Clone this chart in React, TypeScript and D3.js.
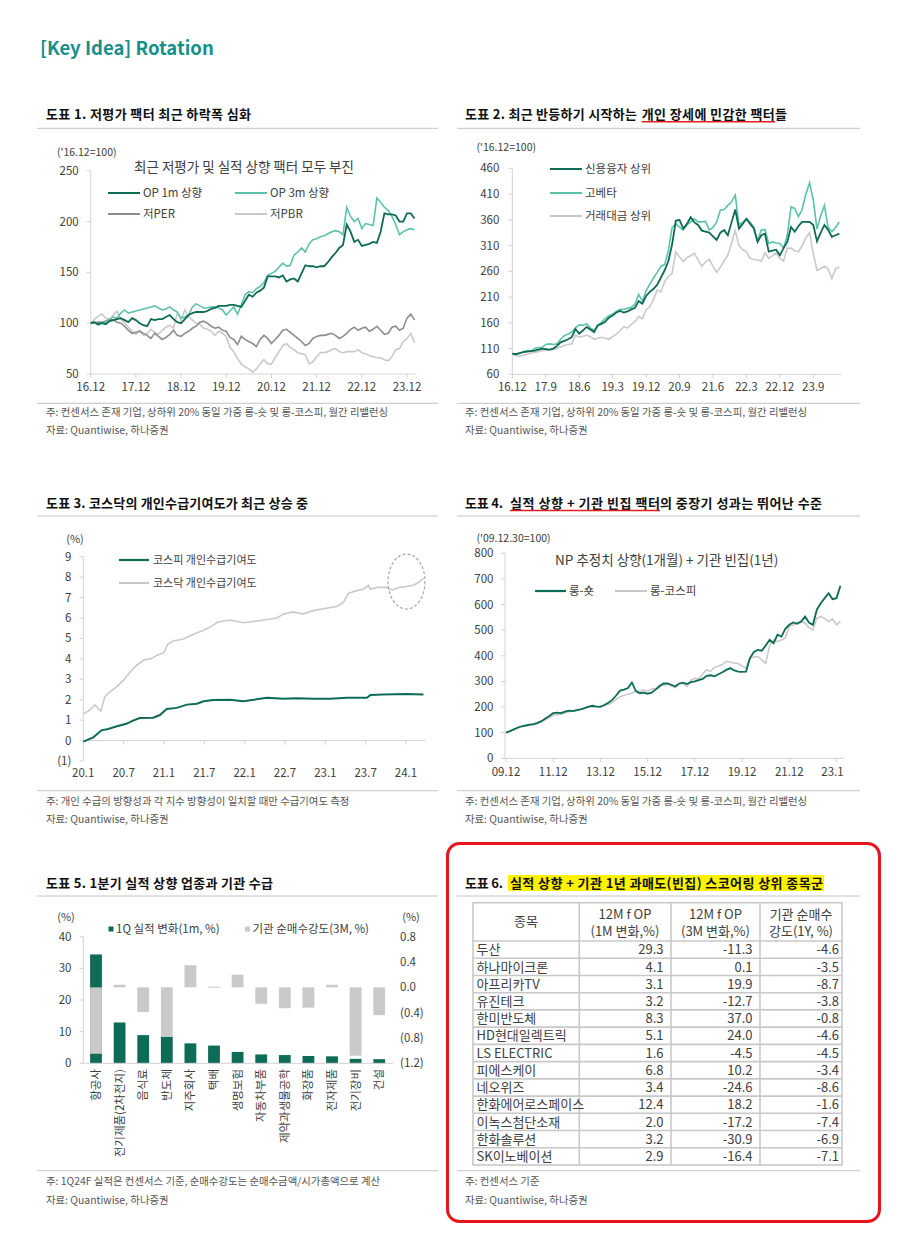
import React from 'react';
import * as d3 from 'd3';

const FONT = "'Noto Sans CJK KR', 'Noto Sans', sans-serif";
const DARK = '#0d6b56';
const TEAL = '#5cc2a9';
const MIDGRAY = '#8d8d8d';
const LIGHTGRAY = '#c9c9c9';
const AXIS = '#d3d3d3';
const TXT = '#404040';
const NOTE = '#555555';
const SEP = '#c4c4c4';
const TITLE_COLOR = '#17908a';

// ---------- Chart 1 ----------
const c1XLabels = ['16.12', '17.12', '18.12', '19.12', '20.12', '21.12', '22.12', '23.12'];
const c1YTicks = [50, 100, 150, 200, 250];
const c1Op1m = [100, 101, 99, 100, 99, 102, 103, 104, 105, 103, 101, 105,
  103, 100, 98, 97, 104, 103, 104, 104, 106, 108, 104, 101,
  100, 104, 108, 110, 111, 111, 111, 112, 114, 115, 117, 117,
  117, 118, 118, 117, 116, 122, 128, 126, 130, 132, 135, 146,
  146, 146, 145, 147, 141, 143, 144, 141, 149, 157, 156, 156,
  155, 156, 156, 160, 165, 169, 174, 177, 197, 190, 180, 182,
  176, 177, 178, 180, 179, 190, 208, 207, 207, 206, 200, 200,
  208, 208, 203];
const c1Op3m = [100, 101, 98, 101, 100, 104, 106, 105, 110, 113, 110, 111,
  112, 113, 114, 115, 116, 117, 115, 113, 114, 116, 113, 111,
  105, 106, 108, 116, 119, 117, 115, 115, 116, 116, 115, 113,
  108, 112, 116, 109, 118, 128, 131, 130, 134, 136, 140, 147,
  149, 151, 155, 159, 156, 157, 167, 170, 174, 170, 178, 182,
  183, 185, 186, 188, 190, 191, 190, 187, 214, 205, 200, 203,
  193, 198, 197, 196, 223, 219, 214, 211, 205, 197, 187, 190,
  192, 193, 192];
const c1LowPer = [100, 100, 101, 101, 102, 104, 103, 101, 100, 97, 93, 90,
  91, 92, 90, 88, 85, 90, 87, 84, 86, 89, 93, 88,
  87, 90, 92, 95, 97, 101, 102, 100, 97, 95, 96, 93,
  92, 86, 84, 79, 87, 84, 82, 80, 77, 84, 88, 85,
  80, 84, 88, 93, 94, 91, 88, 85, 82, 78, 80, 85,
  87, 88, 88, 89, 90, 88, 85, 87, 90, 94, 96, 93,
  95, 96, 92, 94, 97, 93, 89, 90, 96, 97, 93, 95,
  105, 109, 103];
const c1LowPbr = [100, 104, 107, 109, 105, 103, 108, 112, 104, 100, 96, 92,
  89, 93, 88, 90, 94, 91, 89, 93, 96, 98, 95, 110,
  103, 113, 106, 103, 100, 99, 95, 94, 92, 88, 92, 90,
  87, 76, 72, 65, 60, 57, 55, 52, 55, 60, 64, 60,
  60, 66, 72, 78, 80, 76, 74, 71, 70, 69, 60, 62,
  67, 71, 71, 72, 74, 75, 72, 71, 72, 72, 72, 74,
  71, 70, 68, 67, 66, 66, 64, 63, 67, 74, 75, 82,
  85, 90, 81];

// ---------- Chart 2 ----------
const c2XLabels = ['16.12', '17.9', '18.6', '19.3', '19.12', '20.9', '21.6', '22.3', '22.12', '23.9'];
const c2YTicks = [60, 110, 160, 210, 260, 310, 360, 410, 460];
const c2Credit = [100, 99, 101, 103, 104, 105, 106, 108, 110, 109, 108, 110,
  115, 122, 125, 128, 132, 148, 139, 145, 152, 147, 142, 155,
  158, 162, 170, 174, 180, 183, 180, 182, 186, 189, 202, 197,
  212, 220, 226, 234, 248, 262, 280, 312, 358, 360, 343, 352,
  365, 355, 350, 339, 337, 335, 328, 321, 335, 340, 330, 355,
  380, 343, 352, 362, 352, 343, 317, 330, 333, 298, 300, 302,
  291, 305, 317, 346, 337, 348, 356, 356, 356, 350, 318, 335,
  350, 340, 327, 330, 333];
const c2Beta = [100, 99, 101, 104, 106, 105, 110, 112, 112, 118, 119, 118,
  119, 128, 135, 138, 142, 150, 156, 155, 158, 150, 145, 155,
  161, 168, 174, 177, 182, 186, 186, 188, 190, 196, 215, 202,
  222, 235, 247, 258, 270, 273, 300, 345, 352, 346, 340, 350,
  356, 362, 356, 356, 357, 340, 345, 356, 379, 380, 388, 395,
  408, 350, 355, 362, 355, 346, 320, 340, 341, 314, 317, 315,
  314, 305, 330, 385, 382, 366, 380, 410, 432, 398, 342, 368,
  388, 345, 337, 345, 356];
const c2Volume = [100, 96, 95, 97, 99, 101, 103, 104, 106, 107, 107, 108,
  110, 113, 116, 118, 119, 136, 132, 134, 136, 133, 128, 130,
  132, 130, 128, 133, 138, 145, 152, 150, 157, 162, 172, 168,
  185, 191, 205, 224, 220, 240, 250, 256, 298, 288, 279, 287,
  290, 295, 282, 270, 278, 283, 270, 258, 268, 280, 292, 315,
  339, 310, 302, 298, 285, 283, 282, 280, 296, 285, 290, 296,
  285, 280, 305, 305, 300, 298, 310, 325, 335, 295, 262, 265,
  270, 265, 246, 265, 268];

// ---------- Chart 3 ----------
const c3XLabels = ['20.1', '20.7', '21.1', '21.7', '22.1', '22.7', '23.1', '23.7', '24.1'];
const c3YTicks = [-1, 0, 1, 2, 3, 4, 5, 6, 7, 8, 9];
const c3KospiMonths = [0, 1.5, 2.7, 3.7, 5, 6.4, 7.4, 8.4, 10.4, 11.4, 12.4, 13.9, 15.4, 16.9, 17.9,
  19.3, 21.8, 23.8, 25.8, 27.3, 29.8, 31.7, 34.2, 36.7, 39.2, 42.2, 42.7, 44.6, 48.1, 50.6];
const c3KospiValues = [-0.05, 0.16, 0.5, 0.57, 0.7, 0.82, 0.98, 1.1, 1.12, 1.25, 1.55, 1.6, 1.76, 1.8, 1.92,
  1.99, 2.0, 1.92, 2.02, 2.09, 2.05, 2.07, 2.05, 2.05, 2.09, 2.09, 2.23, 2.25, 2.28, 2.25];
const c3KosdaqMonths = [0, 1, 1.7, 2.6, 3.2, 4, 5, 6, 7, 8, 9, 10, 11, 12, 12.5, 13.4, 15, 16.4, 17.9, 19.3,
  20, 21.8, 23.8, 24.8, 26.8, 28.8, 29.8, 31.2, 32.7, 34.2, 35.7, 37.7, 38.7, 39.4, 40.7,
  41.7, 42.4, 42.7, 43.7, 45.1, 45.9, 47.1, 48.1, 49.1, 49.9, 50.6];
const c3KosdaqValues = [1.3, 1.5, 1.75, 1.45, 2.14, 2.4, 2.64, 2.97, 3.37, 3.7, 3.94, 4.0, 4.18, 4.3, 4.7,
  4.87, 4.98, 5.2, 5.4, 5.64, 5.8, 5.9, 5.77, 5.8, 5.9, 6.0, 6.2, 6.3, 6.2, 6.36, 6.45, 6.56, 6.77, 7.2, 7.34,
  7.42, 7.6, 7.4, 7.5, 7.5, 7.37, 7.5, 7.54, 7.6, 7.75, 7.95];

// ---------- Chart 4 ----------
const c4XLabels = ['09.12', '11.12', '13.12', '15.12', '17.12', '19.12', '21.12', '23.1'];
const c4YTicks = [0, 100, 200, 300, 400, 500, 600, 700, 800];
const c4LongShort = [100, 106, 113, 120, 125, 128, 131, 133, 138, 145, 155, 165,
  176, 178, 176, 182, 186, 184, 188, 191, 196, 202, 205, 202,
  201, 208, 217, 228, 245, 264, 268, 274, 296, 262, 254, 256,
  252, 256, 268, 280, 292, 292, 287, 280, 292, 295, 290, 297,
  300, 305, 310, 322, 324, 320, 328, 336, 345, 352, 343, 338,
  337, 338, 391, 415, 423, 420, 440, 462, 449, 482, 475, 505,
  521, 530, 525, 534, 553, 530, 521, 580, 605, 625, 644, 621,
  625, 673];
const c4LongKospi = [100, 105, 112, 118, 124, 127, 128, 130, 136, 143, 150, 158,
  168, 170, 172, 178, 182, 186, 187, 192, 196, 200, 200, 202,
  204, 206, 210, 218, 230, 240, 246, 250, 254, 262, 262, 266,
  262, 270, 272, 286, 284, 290, 282, 276, 290, 292, 280, 305,
  312, 310, 330, 345, 340, 355, 360, 366, 378, 375, 372, 370,
  360, 352, 391, 395, 397, 384, 371, 440, 462, 455, 462, 470,
  514, 520, 530, 534, 527, 510, 501, 547, 553, 545, 534, 543,
  521, 534];

// ---------- Chart 5 ----------
const c5Sectors = ['항공사', '전기제품(2차전지)', '음식료', '반도체', '지주회사', '택배', '생명보험',
  '자동차부품', '제약과생물공학', '화장품', '전자제품', '전기장비', '건설'];
const c5Earnings = [34.4, 12.9, 8.9, 8.4, 6.3, 5.6, 3.6, 2.8, 2.6, 2.3, 2.2, 1.4, 1.3];
const c5InstFlow = [-1.05, 0.04, -0.39, -0.77, 0.35, 0.01, 0.2, -0.26, -0.33, -0.32, 0.04, -1.08, -0.44];
const c5LeftTicks = [0, 10, 20, 30, 40];
const c5RightTicks = [-1.2, -0.8, -0.4, 0, 0.4, 0.8];

// ---------- Table 6 ----------
const t6Names = ['두산', '하나마이크론', '아프리카TV', '유진테크', '한미반도체', 'HD현대일렉트릭', 'LS ELECTRIC',
  '피에스케이', '네오위즈', '한화에어로스페이스', '이녹스첨단소재', '한화솔루션', 'SK이노베이션'];
const t6Op1m = [29.3, 4.1, 3.1, 3.2, 8.3, 5.1, 1.6, 6.8, 3.4, 12.4, 2.0, 3.2, 2.9];
const t6Op3m = [-11.3, 0.1, 19.9, -12.7, 37.0, 24.0, -4.5, 10.2, -24.6, 18.2, -17.2, -30.9, -16.4];
const t6Inst = [-4.6, -3.5, -8.7, -3.8, -0.8, -4.6, -4.5, -3.4, -8.6, -1.6, -7.4, -6.9, -7.1];

const fmtParen = (v: number, digits: number) => {
  if (Math.abs(v) < 1e-9) return (0).toFixed(digits);
  return v < 0 ? `(${Math.abs(v).toFixed(digits)})` : v.toFixed(digits);
};

type Seg = { t: string; x: number; w?: number };

function PanelTitle({ segs, y }: { segs: Seg[]; y: number }) {
  return (
    <g>
      {segs.map((s, i) => (
        <text key={i} x={s.x} y={y} fontSize={13} fontWeight={700} fill="#111"
          textLength={s.w} lengthAdjust={s.w ? 'spacing' : undefined}>{s.t}</text>
      ))}
    </g>
  );
}

function Notes({ x, y1, y2, note, src }: { x: number; y1: number; y2: number; note: string; src: string }) {
  return (
    <g fontSize={10.4} fill={NOTE}>
      <text x={x} y={y1}>{note}</text>
      <text x={x} y={y2}>{src}</text>
    </g>
  );
}

function Legend({ x1, x2, y, color, w, label, tx, fs = 11.5 }: any) {
  return (
    <g>
      <line x1={x1} x2={x2} y1={y} y2={y} stroke={color} strokeWidth={w} />
      <text x={tx} y={y} dy="0.35em" fontSize={fs} fill={TXT}>{label}</text>
    </g>
  );
}

function Chart1() {
  const x = d3.scaleLinear().domain([0, 84]).range([90.7, 407]);
  const y = d3.scaleLinear().domain([50, 250]).range([374, 170.7]);
  const line = d3.line<number>().x((_, i) => x(i)).y((d) => y(d));
  return (
    <g>
      <text x={57} y={152} dy="0.35em" fontSize={10.5} fill={TXT}>('16.12=100)</text>
      <text x={244} y={167} dy="0.35em" fontSize={13.5} fill={TXT} textAnchor="middle">최근 저평가 및 실적 상향 팩터 모두 부진</text>
      <line x1={x(0)} x2={x(0)} y1={y(250)} y2={y(50)} stroke={AXIS} />
      {c1YTicks.map((t) => (
        <g key={t}>
          <line x1={x(0) - 4} x2={x(0)} y1={y(t)} y2={y(t)} stroke={AXIS} />
          <text x={x(0) - 12} y={y(t)} dy="0.35em" textAnchor="end" fontSize={11.5} fill={TXT}>{t}</text>
        </g>
      ))}
      <line x1={x(0)} x2={x(86) + 2} y1={y(50)} y2={y(50)} stroke={AXIS} />
      {c1XLabels.map((l, i) => (
        <g key={l}>
          <line x1={x(i * 12)} x2={x(i * 12)} y1={y(50)} y2={y(50) + 4} stroke={AXIS} />
          <text x={x(i * 12)} y={387} dy="0.35em" textAnchor="middle" fontSize={11.5} fill={TXT}>{l}</text>
        </g>
      ))}
      <path d={line(c1LowPbr) || ''} fill="none" stroke={LIGHTGRAY} strokeWidth={1.6} />
      <path d={line(c1LowPer) || ''} fill="none" stroke={MIDGRAY} strokeWidth={1.6} />
      <path d={line(c1Op3m) || ''} fill="none" stroke={TEAL} strokeWidth={1.6} />
      <path d={line(c1Op1m) || ''} fill="none" stroke={DARK} strokeWidth={1.8} />
      <Legend x1={108} x2={140} y={193} color={DARK} w={2} label="OP 1m 상향" tx={143} />
      <Legend x1={235} x2={267} y={193} color={TEAL} w={2} label="OP 3m 상향" tx={270} />
      <Legend x1={108} x2={140} y={214} color={MIDGRAY} w={2} label="저PER" tx={143} />
      <Legend x1={235} x2={267} y={214} color={LIGHTGRAY} w={2} label="저PBR" tx={270} />
    </g>
  );
}

function Chart2() {
  const x = d3.scaleLinear().domain([0, 81]).range([512.3, 813.3]);
  const y = d3.scaleLinear().domain([60, 460]).range([374.3, 168.3]);
  const line = d3.line<number>().x((_, i) => x(i)).y((d) => y(d));
  const n = c2Credit.length - 1;
  return (
    <g>
      <text x={476.5} y={147} dy="0.35em" fontSize={10.5} fill={TXT}>('16.12=100)</text>
      <line x1={x(0)} x2={x(0)} y1={y(460)} y2={y(60)} stroke={AXIS} />
      {c2YTicks.map((t) => (
        <g key={t}>
          <line x1={x(0) - 4} x2={x(0)} y1={y(t)} y2={y(t)} stroke={AXIS} />
          <text x={x(0) - 13} y={y(t)} dy="0.35em" textAnchor="end" fontSize={11.5} fill={TXT}>{t}</text>
        </g>
      ))}
      <line x1={x(0)} x2={x(n) + 2} y1={y(60)} y2={y(60)} stroke={AXIS} />
      {c2XLabels.map((l, i) => (
        <g key={l}>
          <line x1={x(i * 9)} x2={x(i * 9)} y1={y(60)} y2={y(60) + 4} stroke={AXIS} />
          <text x={x(i * 9)} y={387} dy="0.35em" textAnchor="middle" fontSize={11.5} fill={TXT}>{l}</text>
        </g>
      ))}
      <path d={line(c2Volume) || ''} fill="none" stroke={LIGHTGRAY} strokeWidth={1.6} />
      <path d={line(c2Beta) || ''} fill="none" stroke={TEAL} strokeWidth={1.6} />
      <path d={line(c2Credit) || ''} fill="none" stroke={DARK} strokeWidth={1.8} />
      <Legend x1={550} x2={582} y={169} color={DARK} w={2} label="신용융자 상위" tx={585} />
      <Legend x1={550} x2={582} y={193} color={TEAL} w={2} label="고베타" tx={585} />
      <Legend x1={550} x2={582} y={216} color={LIGHTGRAY} w={2} label="거래대금 상위" tx={585} />
    </g>
  );
}

function Chart3() {
  const x = d3.scaleLinear().domain([0, 48]).range([83.3, 406]);
  const y = d3.scaleLinear().domain([-1, 9]).range([761, 556.7]);
  const mkLine = (ms: number[]) => d3.line<number>().x((_, i) => x(ms[i])).y((d) => y(d));
  return (
    <g>
      <text x={75} y={539} dy="0.35em" fontSize={11} fill={TXT} textAnchor="middle">(%)</text>
      <line x1={x(0)} x2={x(0)} y1={y(9)} y2={y(-1)} stroke={AXIS} />
      {c3YTicks.map((t) => (
        <g key={t}>
          <line x1={x(0) - 4} x2={x(0)} y1={y(t)} y2={y(t)} stroke={AXIS} />
          <text x={x(0) - 12} y={y(t)} dy="0.35em" textAnchor="end" fontSize={11.5} fill={TXT}>{fmtParen(t, 0)}</text>
        </g>
      ))}
      <line x1={x(0)} x2={x(50.6) + 2} y1={y(0)} y2={y(0)} stroke={AXIS} />
      {c3XLabels.map((l, i) => (
        <g key={l}>
          <line x1={x(i * 6)} x2={x(i * 6)} y1={y(0)} y2={y(0) + 4} stroke={AXIS} />
          <text x={x(i * 6)} y={773} dy="0.35em" textAnchor="middle" fontSize={11.5} fill={TXT}>{l}</text>
        </g>
      ))}
      <path d={mkLine(c3KosdaqMonths)(c3KosdaqValues) || ''} fill="none" stroke={LIGHTGRAY} strokeWidth={1.6} />
      <path d={mkLine(c3KospiMonths)(c3KospiValues) || ''} fill="none" stroke={DARK} strokeWidth={2} />
      <ellipse cx={406.5} cy={581.5} rx={18.5} ry={27.5} fill="none" stroke="#a8a8a8" strokeWidth={1.2} strokeDasharray="3,2" />
      <Legend x1={119} x2={149} y={560} color={DARK} w={2.2} label="코스피 개인수급기여도" tx={153} fs={11} />
      <Legend x1={119} x2={149} y={583} color={LIGHTGRAY} w={2} label="코스닥 개인수급기여도" tx={153} fs={11} />
    </g>
  );
}

function Chart4() {
  const x = d3.scaleLinear().domain([0, 168]).range([506, 836.5]);
  const y = d3.scaleLinear().domain([0, 800]).range([758.3, 553.3]);
  const line = d3.line<number>().x((_, i) => x(i * 2)).y((d) => y(d));
  const last = (c4LongShort.length - 1) * 2;
  return (
    <g>
      <text x={476.5} y={538.5} dy="0.35em" fontSize={10.5} fill={TXT}>('09.12.30=100)</text>
      <text x={666.7} y={560} dy="0.35em" fontSize={13.5} fill={TXT} textAnchor="middle">NP 추정치 상향(1개월) + 기관 빈집(1년)</text>
      <line x1={505} x2={505} y1={y(800)} y2={y(0)} stroke={AXIS} />
      {c4YTicks.map((t) => (
        <g key={t}>
          <line x1={501} x2={505} y1={y(t)} y2={y(t)} stroke={AXIS} />
          <text x={493.5} y={y(t)} dy="0.35em" textAnchor="end" fontSize={11.5} fill={TXT}>{t}</text>
        </g>
      ))}
      <line x1={505} x2={x(last) + 4} y1={y(0)} y2={y(0)} stroke={AXIS} />
      {c4XLabels.map((l, i) => (
        <g key={l}>
          <line x1={x(i * 24)} x2={x(i * 24)} y1={y(0)} y2={y(0) + 4} stroke={AXIS} />
          <text x={x(i * 24) - (i === c4XLabels.length - 1 ? 4 : 0)} y={772} dy="0.35em" textAnchor="middle" fontSize={11.5} fill={TXT}>{l}</text>
        </g>
      ))}
      <path d={line(c4LongKospi) || ''} fill="none" stroke={LIGHTGRAY} strokeWidth={1.6} />
      <path d={line(c4LongShort) || ''} fill="none" stroke={DARK} strokeWidth={1.8} />
      <Legend x1={535} x2={566} y={591} color={DARK} w={2.2} label="롱-숏" tx={569} />
      <Legend x1={615} x2={647} y={591} color={LIGHTGRAY} w={2} label="롱-코스피" tx={650} />
    </g>
  );
}

function Chart5() {
  const x = d3.scaleBand<string>().domain(c5Sectors).range([84.2, 391]).paddingInner(0.5).paddingOuter(0.25);
  const yL = d3.scaleLinear().domain([0, 40]).range([1063.3, 936.7]);
  const yR = d3.scaleLinear().domain([-1.2, 0.8]).range([1063.3, 936.7]);
  const bw = x.bandwidth();
  return (
    <g>
      <text x={66} y={917} dy="0.35em" fontSize={11} fill={TXT} textAnchor="middle">(%)</text>
      <text x={411} y={917} dy="0.35em" fontSize={11} fill={TXT} textAnchor="middle">(%)</text>
      <line x1={83.3} x2={83.3} y1={yL(40)} y2={yL(0)} stroke={AXIS} />
      {c5LeftTicks.map((t) => (
        <g key={t}>
          <line x1={79.3} x2={83.3} y1={yL(t)} y2={yL(t)} stroke={AXIS} />
          <text x={71.5} y={yL(t)} dy="0.35em" textAnchor="end" fontSize={11.5} fill={TXT}>{t}</text>
        </g>
      ))}
      {c5RightTicks.map((t) => (
        <text key={t} x={400} y={yR(t)} dy="0.35em" fontSize={11.5} fill={TXT}>{fmtParen(t, 1)}</text>
      ))}
      {c5Sectors.map((s, i) => (
        <rect key={'e' + s} x={x(s)} y={yL(c5Earnings[i])} width={bw} height={yL(0) - yL(c5Earnings[i])} fill={DARK} />
      ))}
      {c5Sectors.map((s, i) => {
        const v = c5InstFlow[i];
        const y0 = Math.min(yR(0), yR(v));
        const h = Math.max(Math.abs(yR(v) - yR(0)), 1);
        return <rect key={'f' + s} x={x(s)} y={y0} width={bw} height={h} fill={LIGHTGRAY} />;
      })}
      <line x1={83.3} x2={393} y1={yL(0)} y2={yL(0)} stroke={AXIS} />
      {c5Sectors.map((s) => (
        <text key={'l' + s} transform={`translate(${(x(s) || 0) + bw / 2},1069) rotate(-90)`} dy="0.35em"
          textAnchor="end" fontSize={11.5} fill={TXT}>{s}</text>
      ))}
      <rect x={108.5} y={926.5} width={5} height={5} fill={DARK} />
      <text x={116} y={929} dy="0.35em" fontSize={11.5} fill={TXT}>1Q 실적 변화(1m, %)</text>
      <rect x={245} y={926.5} width={5} height={5} fill={LIGHTGRAY} />
      <text x={252.5} y={929} dy="0.35em" fontSize={11.5} fill={TXT}>기관 순매수강도(3M, %)</text>
    </g>
  );
}

function Table6() {
  const colX = [473, 579.3, 671, 760, 842];
  const top = 902.7;
  const headB = 941;
  const rowH = (1165 - headB) / t6Names.length;
  const numEnds = [663.5, 752.5, 839];
  const fs = 13;
  const cols = [t6Op1m, t6Op3m, t6Inst];
  return (
    <g>
      <rect x={colX[0]} y={top} width={colX[4] - colX[0]} height={1165 - top} fill="none" stroke="#c8c8c8" strokeWidth={1.6} />
      {colX.slice(1, 4).map((cx) => (
        <line key={cx} x1={cx} x2={cx} y1={top} y2={1165} stroke="#c8c8c8" strokeWidth={1.6} />
      ))}
      {t6Names.map((_, i) => (
        <line key={i} x1={colX[0]} x2={colX[4]} y1={headB + i * rowH} y2={headB + i * rowH} stroke="#c8c8c8" strokeWidth={1.6} />
      ))}
      <text x={526} y={921.7} dy="0.35em" textAnchor="middle" fontSize={fs} fill={TXT}>종목</text>
      <text x={625} y={914} dy="0.35em" textAnchor="middle" fontSize={fs} fill={TXT}>12M f OP</text>
      <text x={625} y={931} dy="0.35em" textAnchor="middle" fontSize={fs} fill={TXT}>(1M 변화,%)</text>
      <text x={715.5} y={914} dy="0.35em" textAnchor="middle" fontSize={fs} fill={TXT}>12M f OP</text>
      <text x={715.5} y={931} dy="0.35em" textAnchor="middle" fontSize={fs} fill={TXT}>(3M 변화,%)</text>
      <text x={801} y={914} dy="0.35em" textAnchor="middle" fontSize={fs} fill={TXT}>기관 순매수</text>
      <text x={801} y={931} dy="0.35em" textAnchor="middle" fontSize={fs} fill={TXT}>강도(1Y, %)</text>
      {t6Names.map((n, i) => {
        const cy = headB + (i + 0.5) * rowH;
        return (
          <g key={n}>
            <text x={476.5} y={cy} dy="0.36em" fontSize={fs} fill={TXT}>{n}</text>
            {cols.map((c, j) => (
              <text key={j} x={numEnds[j]} y={cy} dy="0.36em" textAnchor="end" fontSize={fs} fill={TXT}>{c[i].toFixed(1)}</text>
            ))}
          </g>
        );
      })}
    </g>
  );
}

export default function App() {
  return (
    <svg width={900} height={1248} viewBox="0 0 900 1248" fontFamily={FONT}
      style={{ position: 'absolute', left: 0, top: 0, background: '#fff' }}>
      <rect x={0} y={0} width={900} height={1248} fill="#fff" />
      <text x={40} y={55} fontSize={18.5} fontWeight={700} fill={TITLE_COLOR}>[Key Idea] Rotation</text>

      {/* Row 1 */}
      <PanelTitle y={118.5} segs={[{ t: '도표 1. 저평가 팩터 최근 하락폭 심화', x: 46, w: 205 }]} />
      <PanelTitle y={118.5} segs={[
        { t: '도표 2. 최근 반등하기 시작하는', x: 465, w: 172 },
        { t: '개인 장세에 민감한 팩터', x: 641.7, w: 133 },
        { t: '들', x: 775 },
      ]} />
      <line x1={641.7} x2={775} y1={121.7} y2={121.7} stroke="#e02020" strokeWidth={1.5} />
      <line x1={37} x2={438} y1={128.3} y2={128.3} stroke={SEP} />
      <line x1={457} x2={860} y1={128.3} y2={128.3} stroke={SEP} />
      <Chart1 />
      <Chart2 />
      <line x1={37} x2={438} y1={403.3} y2={403.3} stroke={SEP} />
      <line x1={457} x2={860} y1={403.3} y2={403.3} stroke={SEP} />
      <Notes x={46} y1={416.3} y2={434.3} note="주: 컨센서스 존재 기업, 상하위 20% 동일 가중 롱-숏 및 롱-코스피, 월간 리밸런싱" src="자료: Quantiwise, 하나증권" />
      <Notes x={465} y1={416.3} y2={434.3} note="주: 컨센서스 존재 기업, 상하위 20% 동일 가중 롱-숏 및 롱-코스피, 월간 리밸런싱" src="자료: Quantiwise, 하나증권" />

      {/* Row 2 */}
      <PanelTitle y={508} segs={[{ t: '도표 3. 코스닥의 개인수급기여도가 최근 상승 중', x: 46, w: 262 }]} />
      <PanelTitle y={508} segs={[
        { t: '도표 4.', x: 465, w: 38 },
        { t: '실적 상향 + 기관 빈집 팩터', x: 510, w: 150 },
        { t: '의 중장기 성과는 뛰어난 수준', x: 660, w: 162 },
      ]} />
      <line x1={510} x2={660} y1={510.5} y2={510.5} stroke="#e02020" strokeWidth={1.5} />
      <line x1={37} x2={438} y1={516} y2={516} stroke={SEP} />
      <line x1={457} x2={860} y1={516} y2={516} stroke={SEP} />
      <Chart3 />
      <Chart4 />
      <line x1={37} x2={438} y1={790.7} y2={790.7} stroke={SEP} />
      <line x1={457} x2={860} y1={790.7} y2={790.7} stroke={SEP} />
      <Notes x={46} y1={805.2} y2={822.8} note="주: 개인 수급의 방향성과 각 지수 방향성이 일치할 때만 수급기여도 측정" src="자료: Quantiwise, 하나증권" />
      <Notes x={465} y1={805.2} y2={822.8} note="주: 컨센서스 존재 기업, 상하위 20% 동일 가중 롱-숏 및 롱-코스피, 월간 리밸런싱" src="자료: Quantiwise, 하나증권" />

      {/* Row 3 */}
      <PanelTitle y={888} segs={[{ t: '도표 5. 1분기 실적 상향 업종과 기관 수급', x: 46, w: 227 }]} />
      <rect x={508} y={875} width={316} height={16} fill="#fff200" />
      <PanelTitle y={888} segs={[
        { t: '도표 6.', x: 465, w: 38 },
        { t: '실적 상향 + 기관 1년 과매도(빈집) 스코어링 상위 종목군', x: 510, w: 313 },
      ]} />
      <line x1={37} x2={438} y1={896} y2={896} stroke={SEP} />
      <line x1={457} x2={860} y1={896} y2={896} stroke={SEP} />
      <Chart5 />
      <Table6 />
      <line x1={37} x2={438} y1={1170.7} y2={1170.7} stroke={SEP} />
      <line x1={457} x2={860} y1={1170.7} y2={1170.7} stroke={SEP} />
      <Notes x={46} y1={1185.2} y2={1203.5} note="주: 1Q24F 실적은 컨센서스 기준, 순매수강도는 순매수금액/시가총액으로 계산" src="자료: Quantiwise, 하나증권" />
      <Notes x={465} y1={1185.2} y2={1203.5} note="주: 컨센서스 기준" src="자료: Quantiwise, 하나증권" />

      <rect x={447.5} y={843.5} width={432} height={378} rx={12} ry={12} fill="none" stroke="#e8141c" strokeWidth={3} />
    </svg>
  );
}
